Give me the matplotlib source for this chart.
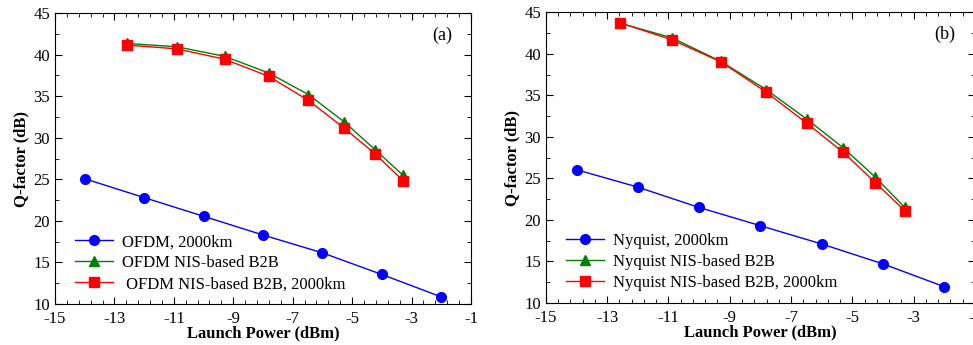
import matplotlib
matplotlib.use('Agg')
import matplotlib.pyplot as plt
from matplotlib.ticker import MultipleLocator

plt.rcParams['font.family'] = ['Liberation Serif', 'DejaVu Serif']
plt.rcParams['axes.unicode_minus'] = False

# Datos panel (a): OFDM
xa_blue = [-14, -12, -10, -8, -6, -4, -2]
ya_blue = [25.07, 22.8, 20.55, 18.3, 16.15, 13.55, 10.85]
xa_nis = [-12.59, -10.9, -9.29, -7.81, -6.47, -5.28, -4.22, -3.29]
ya_green = [41.35, 40.95, 39.8, 37.8, 35.2, 31.95, 28.55, 25.5]
ya_red = [41.15, 40.7, 39.45, 37.4, 34.5, 31.2, 28.05, 24.85]

# Datos panel (b): Nyquist
xb_blue = [-14, -12, -10, -8, -6, -4, -2]
yb_blue = [26.05, 23.95, 21.5, 19.3, 17.1, 14.7, 11.95]
xb_nis = [-12.58, -10.89, -9.29, -7.81, -6.49, -5.3, -4.25, -3.29]
yb_green = [43.7, 41.95, 39.1, 35.7, 32.15, 28.7, 25.15, 21.5]
yb_red = [43.75, 41.7, 39.05, 35.4, 31.65, 28.15, 24.5, 21.1]

labels_a = ['OFDM, 2000km', 'OFDM NIS-based B2B', ' OFDM NIS-based B2B, 2000km']
labels_b = ['Nyquist, 2000km', 'Nyquist NIS-based B2B', 'Nyquist NIS-based B2B, 2000km']

fig = plt.figure(figsize=(9.73, 3.45), dpi=100)
ax1 = fig.add_axes([0.0565, 0.119, 0.4275, 0.843])
ax2 = fig.add_axes([0.561, 0.122, 0.441, 0.842])


def panel(ax, xbl, ybl, xn, yg, yr, labels, tag):
    ax.plot(xbl, ybl, '-o', color='blue', lw=1, ms=7, label=labels[0])
    ax.plot(xn, yg, '-^', color='green', lw=1, ms=7, label=labels[1])
    ax.plot(xn, yr, '-s', color='red', lw=1, ms=7, label=labels[2])
    ax.set_xlim(-15, -1)
    ax.set_ylim(10, 45)
    ax.xaxis.set_major_locator(MultipleLocator(2, offset=1))
    ax.xaxis.set_minor_locator(MultipleLocator(0.4, offset=0.2))
    ax.yaxis.set_major_locator(MultipleLocator(5))
    ax.yaxis.set_minor_locator(MultipleLocator(2.5))
    ax.tick_params(which='both', direction='in', top=True, right=True, labelsize=12)
    ax.tick_params(which='major', length=5)
    ax.tick_params(which='minor', length=3)
    ax.tick_params(axis='x', pad=5)
    ax.set_xlabel('Launch Power (dBm)', fontsize=12, fontweight='bold', labelpad=-1)
    ax.set_ylabel('Q-factor (dB)', fontsize=12, fontweight='bold', labelpad=3)
    ax.text(0.93, 0.925, tag, transform=ax.transAxes, fontsize=13, ha='center', va='center')
    ax.legend(loc='lower left', bbox_to_anchor=(0.02, 0.0), frameon=False, fontsize=12,
              handlelength=2.3, handletextpad=0.5, labelspacing=0.3, borderaxespad=0.3)


panel(ax1, xa_blue, ya_blue, xa_nis, ya_green, ya_red, labels_a, '(a)')
panel(ax2, xb_blue, yb_blue, xb_nis, yb_green, yb_red, labels_b, '(b)')

fig.savefig('out.png', dpi=100)
